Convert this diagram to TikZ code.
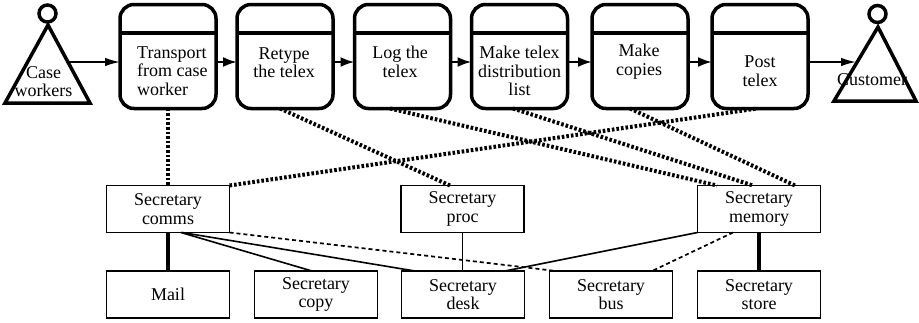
\documentclass[tikz,border=0pt]{standalone}
\usepackage{fontspec}
\setmainfont{Liberation Serif}
\usetikzlibrary{arrows.meta,calc}
\begin{document}
\begin{tikzpicture}[x=1pt,y=-1pt,
  every node/.style={font=\fontsize{18}{18.5}\selectfont},
  procbox/.style={draw, line width=3.5pt, rounded corners=14pt, minimum width=96pt,
    minimum height=104pt, inner sep=0pt, outer sep=0pt},
  resbox/.style={draw, line width=1.6pt, minimum width=123pt, minimum height=47pt,
    inner sep=0pt, outer sep=0pt, align=center},
  lbl/.style={align=center, inner sep=0pt},
  flow/.style={line width=2.4pt, -{Latex[length=14pt,width=10pt]}},
  inflow/.style={line width=1.6pt, -{Latex[length=15pt,width=8.5pt]}},
  uses/.style={line width=4pt, dash pattern=on 2.6pt off 2pt},
  link/.style={line width=1.6pt},
  heavylink/.style={line width=4pt},
  maybe/.style={line width=1.7pt, dash pattern=on 4pt off 3pt},
  actor/.style={line width=3.5pt, line join=miter}
]
\useasboundingbox (0,0) rectangle (919,322);

% process steps: rounded boxes with a header strip
\foreach \nm/\xc in {p1/168,p2/285,p3/402.5,p4/519.5,p5/640,p6/760} {
  \node[procbox] (\nm) at (\xc,56.5) {};
  \draw[line width=3.5pt] ([yshift=-28.5pt]\nm.north west) -- ([yshift=-28.5pt]\nm.north east);
}
\node[lbl, align=left, anchor=west] (t1) at (137,71) {Transport\\from case\\worker};
\node[lbl] (t2) at (284,62.5) {Retype\\the telex};
\node[lbl] (t3) at (400,62) {Log the\\telex};
\node[lbl] (t4) at (519.5,71) {Make telex\\distribution\\list};
\node[lbl] (t5) at (639,61.5) {Make\\copies};
\node[lbl] (t6) at (760,71) {Post\\telex};

% flow between the steps
\draw[flow] ([yshift=-5.5pt]p1.east) -- ([yshift=-5.5pt]p2.west);
\draw[flow] ([yshift=-5.5pt]p2.east) -- ([yshift=-5.5pt]p3.west);
\draw[flow] ([yshift=-5.5pt]p3.east) -- ([yshift=-5.5pt]p4.west);
\draw[flow] ([yshift=-5.5pt]p4.east) -- ([yshift=-5.5pt]p5.west);
\draw[flow] ([yshift=-5.5pt]p5.east) -- ([yshift=-5.5pt]p6.west);

% actors
\draw[actor] (48,25) -- (5,103) -- (90,103) -- cycle;
\draw[line width=3.5pt] (47.5,13.5) circle[radius=8.5pt];
\node[lbl] (cw) at (43.5,81.5) {Case\\workers};
\coordinate (cwout) at (69,62);
\draw[inflow] (cwout) -- ([yshift=-5.5pt]p1.west);

\draw[actor] (878,27) -- (834,101) -- (916,101) -- cycle;
\draw[line width=3.5pt] (877.5,14) circle[radius=8.5pt];
\node[lbl] (cu) at (872,80) {Customer};
\coordinate (cuin) at (856,62);
\draw[inflow] ([yshift=-5.5pt]p6.east) -- (cuin);

% resources
\node[resbox] (comms)  at (168,209)   {Secretary\\comms};
\node[resbox] (proc)   at (462.5,209) {Secretary\\proc};
\node[resbox] (memory) at (759,209)   {Secretary\\memory};
\node[resbox] (mail)   at (168,294.5) {Mail};
\node[resbox] (copy)   at (316,294.5) {Secretary\\copy};
\node[resbox] (desk)   at (463,294.5) {Secretary\\desk};
\node[resbox] (bus)    at (611,294.5) {Secretary\\bus};
\node[resbox] (store)  at (759,294.5) {Secretary\\store};

% steps using resources
\draw[uses] (p1.south) -- (comms.north);
\draw[uses] ($(p2.south)+(-5,0)$) -- ($(proc.north)+(-12.5,0)$);
\draw[uses] (comms.north east) -- ($(p6.south)+(-3,0)$);
\draw[uses] ($(p3.south)+(-12.5,0)$) -- ($(memory.north)+(-42,0)$);
\draw[uses] ($(p4.south)+(-6.5,0)$) -- ($(memory.north)+(-6,0)$);
\draw[uses] ($(p5.south)+(-10,0)$) -- ($(memory.north)+(36,0)$);

% resource structure
\draw[heavylink] (comms.south) -- (mail.north);
\draw[link] ($(comms.south)+(13,0)$) -- ($(copy.north)+(-4,0)$);
\draw[link] ($(comms.south)+(14,0)$) -- ($(desk.north)+(-48,0)$);
\draw[maybe] (comms.south east) -- ($(bus.north)+(-55,0)$);
\draw[link] (proc.south) -- (proc.south |- desk.north);
\draw[link] (memory.south west) -- ($(desk.north)+(42,0)$);
\draw[maybe] ($(memory.south)+(-26,0)$) -- ($(bus.north)+(41,0)$);
\draw[heavylink] (memory.south) -- (store.north);
\end{tikzpicture}
\end{document}
